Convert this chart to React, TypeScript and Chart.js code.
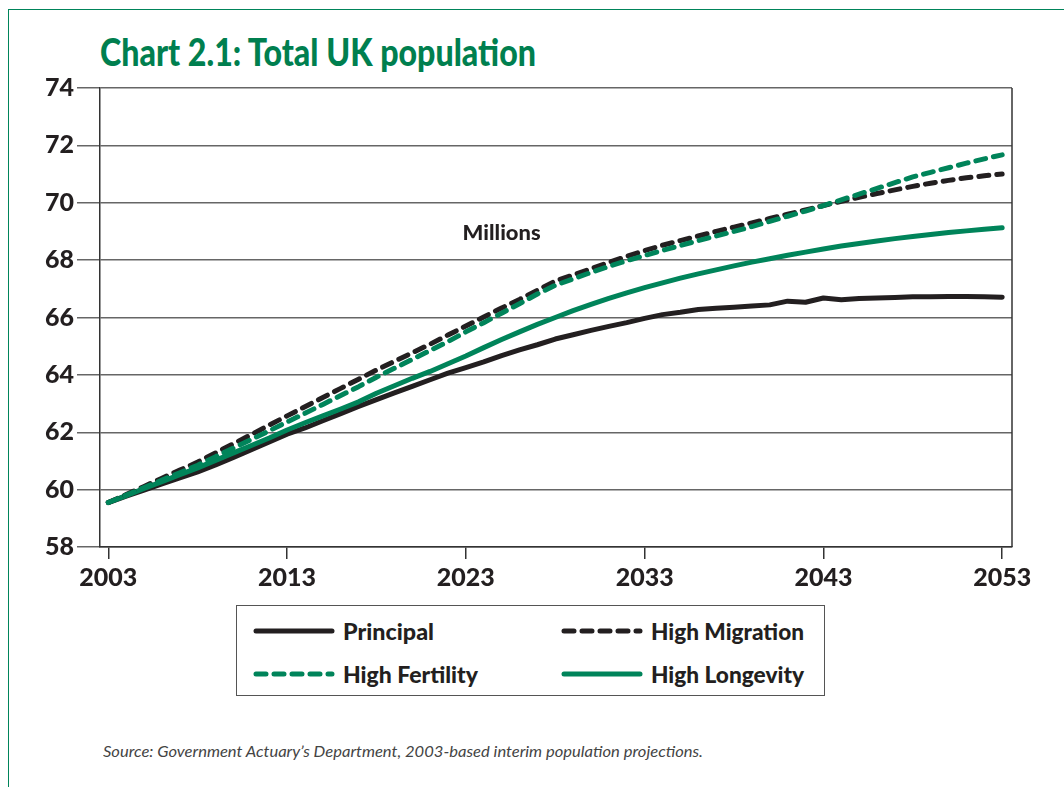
import React, { useEffect, useLayoutEffect, useRef } from "react";
import { Chart, registerables } from "chart.js";

Chart.register(...registerables);

const years: number[] = [];
for (let y = 2003; y <= 2053; y++) years.push(y);

const tickYears = [2003, 2013, 2023, 2033, 2043, 2053];

const principal = [
  59.55, 59.77, 59.98, 60.2, 60.41, 60.62, 60.86, 61.12, 61.39, 61.66,
  61.93, 62.15, 62.4, 62.65, 62.9, 63.14, 63.37, 63.6, 63.83, 64.06,
  64.25, 64.45, 64.67, 64.87, 65.05, 65.25, 65.4, 65.55, 65.69, 65.82,
  65.97, 66.1, 66.18, 66.28, 66.32, 66.36, 66.4, 66.44, 66.57, 66.53,
  66.68, 66.62, 66.66, 66.68, 66.7, 66.72, 66.72, 66.73, 66.73, 66.72,
  66.71,
];

const highMigration = [
  59.55, 59.83, 60.11, 60.4, 60.68, 60.96, 61.28, 61.6, 61.92, 62.25,
  62.57, 62.89, 63.21, 63.53, 63.85, 64.17, 64.47, 64.77, 65.07, 65.39,
  65.7, 66.02, 66.33, 66.63, 66.95, 67.27, 67.48, 67.7, 67.92, 68.13,
  68.33, 68.52, 68.68, 68.84, 69.0, 69.15, 69.3, 69.45, 69.6, 69.75,
  69.9, 70.05, 70.19, 70.32, 70.45, 70.57, 70.68, 70.78, 70.87, 70.94,
  71.0,
];

const highFertility = [
  59.55, 59.81, 60.07, 60.33, 60.59, 60.85, 61.15, 61.45, 61.75, 62.05,
  62.36, 62.66, 62.97, 63.28, 63.59, 63.92, 64.23, 64.54, 64.85, 65.16,
  65.5, 65.82, 66.15, 66.48, 66.82, 67.12, 67.35, 67.57, 67.78, 67.98,
  68.16, 68.34, 68.51, 68.68, 68.84, 69.0, 69.17, 69.35, 69.53, 69.71,
  69.9, 70.1, 70.3, 70.5, 70.7, 70.9, 71.06, 71.22, 71.38, 71.53,
  71.67,
];

const highLongevity = [
  59.55, 59.79, 60.04, 60.28, 60.52, 60.76, 61.02, 61.28, 61.54, 61.8,
  62.08, 62.33, 62.57, 62.81, 63.06, 63.36, 63.62, 63.88, 64.12, 64.39,
  64.66, 64.95, 65.23, 65.5, 65.76, 66.0, 66.24, 66.46, 66.67, 66.86,
  67.04, 67.21, 67.37, 67.52, 67.66, 67.8, 67.93, 68.05, 68.17, 68.28,
  68.39, 68.49, 68.58, 68.67, 68.75, 68.82, 68.89, 68.96, 69.02, 69.08,
  69.13,
];

const seriesNames = ["Principal", "High Migration", "High Fertility", "High Longevity"];

const BLACK = "#231f20";
const GREEN = "#00845a";
const FONT = 'Lato, "Noto Sans", sans-serif';

const unitLabel = "Millions";
const unitLabelPos = { x: 2025, y: 68.95 };

const toXY = (vals: number[]) => vals.map((v, i) => ({ x: years[i], y: v }));

const decorPlugin = {
  id: "decor",
  afterDraw(chart: any) {
    const { ctx, chartArea, scales } = chart;
    ctx.save();
    ctx.strokeStyle = "#333";
    ctx.lineWidth = 1.5;
    ctx.beginPath();
    ctx.moveTo(chartArea.right, chartArea.top);
    ctx.lineTo(chartArea.right, chartArea.bottom);
    ctx.stroke();
    ctx.fillStyle = BLACK;
    ctx.font = `900 21px ${FONT}`;
    ctx.textAlign = "center";
    ctx.textBaseline = "middle";
    const px = scales.x.getPixelForValue(unitLabelPos.x);
    const py = scales.y.getPixelForValue(unitLabelPos.y);
    const w = ctx.measureText(unitLabel).width;
    const sx = w > 0 ? 78 / w : 1;
    ctx.translate(px, py);
    ctx.scale(sx, 1);
    ctx.fillText(unitLabel, 0, 0);
    ctx.restore();
  },
};

function FitText({ text, width, style }: { text: string; width: number; style: React.CSSProperties }) {
  const ref = useRef<HTMLSpanElement>(null);
  useLayoutEffect(() => {
    const el = ref.current;
    if (!el) return;
    el.style.transform = "none";
    const w = el.getBoundingClientRect().width;
    if (w > 0) el.style.transform = `scaleX(${width / w})`;
  });
  return (
    <span
      ref={ref}
      style={{ display: "inline-block", transformOrigin: "left center", whiteSpace: "nowrap", ...style }}
    >
      {text}
    </span>
  );
}

function LegendItem({ name, color, dashed, textWidth }: { name: string; color: string; dashed: boolean; textWidth: number }) {
  return (
    <div style={{ display: "flex", alignItems: "center", height: 30 }}>
      <svg width={82} height={12} style={{ marginRight: 8, flex: "none" }}>
        <line
          x1={3}
          y1={6}
          x2={79}
          y2={6}
          stroke={color}
          strokeWidth={5}
          strokeLinecap="round"
          strokeDasharray={dashed ? "10 8" : undefined}
        />
      </svg>
      <FitText text={name} width={textWidth} style={{ font: `900 23px ${FONT}`, color: BLACK, lineHeight: "30px" }} />
    </div>
  );
}

export default function App() {
  const ref = useRef<HTMLCanvasElement>(null);

  useEffect(() => {
    if (!ref.current) return;
    const lineCommon = {
      pointRadius: 0,
      borderWidth: 5,
      borderCapStyle: "round" as const,
      borderJoinStyle: "round" as const,
      tension: 0,
      fill: false,
    };
    const chart = new Chart(ref.current, {
      type: "line",
      data: {
        datasets: [
          { label: seriesNames[0], data: toXY(principal), borderColor: BLACK, ...lineCommon, order: 4 },
          { label: seriesNames[3], data: toXY(highLongevity), borderColor: GREEN, ...lineCommon, order: 3 },
          { label: seriesNames[1], data: toXY(highMigration), borderColor: BLACK, borderDash: [10, 8], ...lineCommon, order: 2 },
          { label: seriesNames[2], data: toXY(highFertility), borderColor: GREEN, borderDash: [10, 8], ...lineCommon, order: 1 },
        ],
      },
      options: {
        animation: false,
        responsive: false,
        maintainAspectRatio: false,
        layout: { padding: { left: 0, top: 88, right: 52, bottom: 0 } },
        plugins: { legend: { display: false }, tooltip: { enabled: false } },
        scales: {
          x: {
            type: "linear",
            min: 2002.535,
            max: 2053.55,
            afterBuildTicks: (scale: any) => {
              scale.ticks = tickYears.map((v) => ({ value: v }));
            },
            afterFit: (scale: any) => {
              scale.height = 53;
            },
            grid: { drawOnChartArea: false, tickLength: 12, color: "#333", lineWidth: 1.5 },
            border: { color: "#333", width: 1.5 },
            ticks: {
              autoSkip: false,
              maxRotation: 0,
              color: BLACK,
              padding: 4,
              font: { family: FONT, weight: "900", size: 25 },
              callback: (v: any) => String(v),
            },
          },
          y: {
            min: 58,
            max: 74,
            afterFit: (scale: any) => {
              scale.width = 100;
            },
            grid: { color: "#666", lineWidth: 1.5, tickLength: 23 },
            border: { color: "#333", width: 1.5 },
            ticks: {
              stepSize: 2,
              color: BLACK,
              padding: 3,
              font: { family: FONT, weight: "900", size: 25 },
            },
          },
        },
      },
      plugins: [decorPlugin],
    });
    return () => chart.destroy();
  }, []);

  return (
    <div style={{ position: "fixed", left: 0, top: 0, width: 1064, height: 787, background: "#fff", overflow: "hidden" }}>
      <div
        style={{
          position: "absolute",
          left: 8,
          top: 9,
          width: 1100,
          height: 800,
          borderTop: `1.5px solid ${GREEN}`,
          borderLeft: `1.5px solid ${GREEN}`,
        }}
      />
      <div style={{ position: "absolute", left: 100, top: 33 }}>
        <FitText
          text="Chart 2.1: Total UK population"
          width={436}
          style={{ font: `900 37px ${FONT}`, lineHeight: "37px", color: "#007f4f" }}
        />
      </div>
      <canvas ref={ref} width={1064} height={600} style={{ position: "absolute", left: 0, top: 0, width: 1064, height: 600 }} />
      <div
        style={{
          position: "absolute",
          left: 236,
          top: 605,
          width: 589,
          height: 91,
          border: "1.5px solid #555",
          boxSizing: "border-box",
        }}
      >
        <div style={{ position: "absolute", left: 16, top: 10 }}>
          <LegendItem name={seriesNames[0]} color={BLACK} dashed={false} textWidth={91} />
        </div>
        <div style={{ position: "absolute", left: 324, top: 10 }}>
          <LegendItem name={seriesNames[1]} color={BLACK} dashed={true} textWidth={153} />
        </div>
        <div style={{ position: "absolute", left: 16, top: 53 }}>
          <LegendItem name={seriesNames[2]} color={GREEN} dashed={true} textWidth={135} />
        </div>
        <div style={{ position: "absolute", left: 324, top: 53 }}>
          <LegendItem name={seriesNames[3]} color={GREEN} dashed={false} textWidth={153} />
        </div>
      </div>
      <div style={{ position: "absolute", left: 103, top: 743 }}>
        <FitText
          text="Source: Government Actuary’s Department, 2003-based interim population projections."
          width={600}
          style={{ font: `italic 15px ${FONT}`, lineHeight: "15px", color: "#444" }}
        />
      </div>
    </div>
  );
}
